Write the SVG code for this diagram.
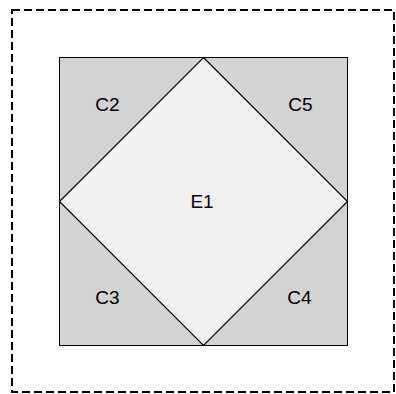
<svg xmlns="http://www.w3.org/2000/svg" width="396" height="394" viewBox="0 0 396 394">
<style>
.lbl{font-family:"Liberation Sans",Arial,sans-serif;font-size:19px;fill:#000;text-anchor:middle}
</style>
<rect width="396" height="394" fill="#fff"/>
<g id="frame"><rect x="12" y="10" width="382" height="382" fill="none" stroke="#000" stroke-width="2" stroke-dasharray="8,4"/></g>
<g id="square"><rect x="59.5" y="57.5" width="288" height="288" fill="#d3d3d3" stroke="#000" stroke-width="1"/></g>
<g id="E1"><polygon points="203.5,57.5 347.5,201.5 203.5,345.5 59.5,201.5" fill="#f0f0f0" stroke="#000" stroke-width="1.2"/><text class="lbl" x="202" y="208">E1</text></g>
<g id="C2"><text class="lbl" x="107.5" y="111">C2</text></g>
<g id="C5"><text class="lbl" x="300.5" y="111">C5</text></g>
<g id="C3"><text class="lbl" x="107.5" y="304">C3</text></g>
<g id="C4"><text class="lbl" x="299.5" y="304">C4</text></g>
<g id="connectors"></g>
</svg>
